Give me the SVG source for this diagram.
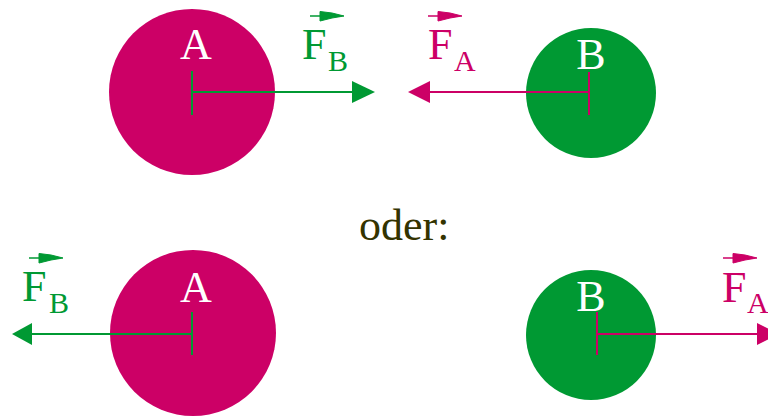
<svg xmlns="http://www.w3.org/2000/svg" width="768" height="416" viewBox="0 0 768 416">
<style>
.m{fill:#cc0066}
.g{fill:#009933}
.lbl{font-family:"Liberation Serif","Times New Roman",serif;font-size:44px;fill:#ffffff;text-anchor:middle}
.F{font-family:"Liberation Serif","Times New Roman",serif;font-size:44px}
.sub{font-family:"Liberation Serif","Times New Roman",serif;font-size:30px}
.sg{stroke:#009933;stroke-width:2;fill:none}
.sm{stroke:#cc0066;stroke-width:2;fill:none}
.tg{fill:#009933}
.tm{fill:#cc0066}
</style>
<defs>
<g id="vec">
<line x1="0" y1="0" x2="30" y2="0" stroke-width="1.5"/>
<polygon points="10,-4.5 22,-3 34,0 22,2 10,5"/>
</g>
</defs>
<rect width="768" height="416" fill="#ffffff"/>
<g id="nodeA-top">
<circle class="m" cx="192" cy="92" r="83"/>
<text class="lbl" x="196" y="59">A</text>
</g>
<g id="nodeB-top">
<circle class="g" cx="591" cy="93" r="65"/>
<text class="lbl" x="591" y="69">B</text>
</g>
<g id="nodeA-bottom">
<circle class="m" cx="193" cy="333" r="83"/>
<text class="lbl" x="196" y="302">A</text>
</g>
<g id="nodeB-bottom">
<circle class="g" cx="591" cy="335" r="65"/>
<text class="lbl" x="591" y="311">B</text>
</g>
<g id="connectors">
<line class="sg" x1="192" y1="71" x2="192" y2="115"/>
<line class="sg" x1="192" y1="92" x2="354" y2="92"/>
<polygon class="tg" points="352,81 375,92 352,103"/>
<line class="sm" x1="589" y1="72" x2="589" y2="115"/>
<line class="sm" x1="589" y1="92" x2="428" y2="92"/>
<polygon class="tm" points="430,81 408,92 430,103"/>
<line class="sg" x1="192" y1="312" x2="192" y2="355"/>
<line class="sg" x1="192" y1="334" x2="30" y2="334"/>
<polygon class="tg" points="32,323 12,334 32,345"/>
<line class="sm" x1="597" y1="312" x2="597" y2="355"/>
<line class="sm" x1="597" y1="334" x2="760" y2="334"/>
<polygon class="tm" points="757,323 779,334 757,345"/>
</g>
<g id="label-FB-top" class="tg">
<use href="#vec" x="310" y="16" stroke="#009933"/>
<text class="F" x="302" y="59">F</text>
<text class="sub" x="328" y="71">B</text>
</g>
<g id="label-FA-top" class="tm">
<use href="#vec" x="428" y="16" stroke="#cc0066"/>
<text class="F" x="428" y="59">F</text>
<text class="sub" x="454" y="71">A</text>
</g>
<g id="label-FB-bottom" class="tg">
<use href="#vec" x="29" y="258" stroke="#009933"/>
<text class="F" x="22" y="301">F</text>
<text class="sub" x="49" y="313">B</text>
</g>
<g id="label-FA-bottom" class="tm">
<use href="#vec" x="723" y="258" stroke="#cc0066"/>
<text class="F" x="722" y="302">F</text>
<text class="sub" x="747" y="313" font-size="27">A</text>
</g>
<text x="359" y="240" font-family="'Liberation Serif','Times New Roman',serif" font-size="44" fill="#333300">oder:</text>
</svg>
